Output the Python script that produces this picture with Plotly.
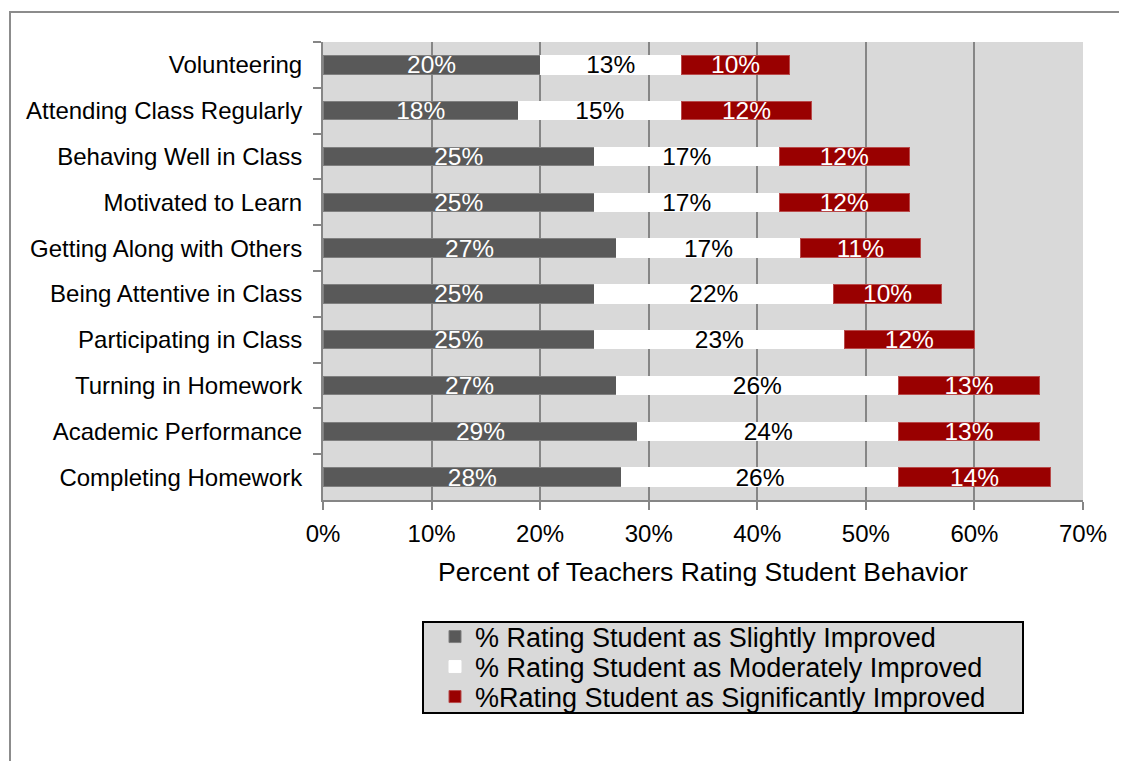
import plotly.graph_objects as go

categories = [
    "Volunteering",
    "Attending Class Regularly",
    "Behaving Well in Class",
    "Motivated to Learn",
    "Getting Along with Others",
    "Being Attentive in Class",
    "Participating in Class",
    "Turning in Homework",
    "Academic Performance",
    "Completing Homework",
]
slightly = [20, 18, 25, 25, 27, 25, 25, 27, 29, 27.5]
moderately = [13, 15, 17, 17, 17, 22, 23, 26, 24, 25.5]
significantly = [10, 12, 12, 12, 11, 10, 12, 13, 13, 14]

series_names = [
    "% Rating Student as Slightly Improved",
    "% Rating Student as Moderately Improved",
    "%Rating Student as Significantly Improved",
]
x_ticks = [0, 10, 20, 30, 40, 50, 60, 70]
x_tick_labels = [f"{v}%" for v in x_ticks]

FONT = "Liberation Sans, Arial, sans-serif"
FS_TICK = 24
FS_BAR = 24.5
FS_TITLE = 26.5
FS_LEG = 27

colors = ["#595959", "#ffffff", "#990000"]
text_colors = ["#ffffff", "#000000", "#ffffff"]
edge_colors = ["#7f7f7f", "#ffffff", "#b84a4a"]
legend_ids = ["legend", "legend2", "legend3"]

# page has an 8px body margin; lay out in reference pixel coords
OFF = 8
W, H = 1127 - OFF, 761 - OFF
PL, PR, PT, PB = 323, 1083, 42, 500  # plot area in reference pixels
pw, ph = PR - PL, PB - PT


def px2x(p):
    return (p - PL) / pw


def px2y(p):
    return (PB - p) / ph


fig = go.Figure()
for name, vals, c, tc, ec, lg in zip(series_names, [slightly, moderately, significantly],
                                     colors, text_colors, edge_colors, legend_ids):
    fig.add_trace(go.Bar(
        y=categories, x=vals, name=name, orientation="h", legend=lg,
        marker=dict(color=c, line=dict(color=ec, width=1)),
        texttemplate="%{x:.0f}%", textposition="inside", insidetextanchor="middle",
        constraintext="none",
        textfont=dict(family=FONT, size=FS_BAR, color=tc),
    ))

leg_common = dict(
    xanchor="left", yanchor="middle", bgcolor="rgba(0,0,0,0)", borderwidth=0,
    font=dict(family=FONT, size=FS_LEG, color="#000000"), itemwidth=30,
)

fig.update_layout(
    width=W, height=H,
    margin=dict(l=PL - OFF, r=W - (PR - OFF), t=PT - OFF, b=H - (PB - OFF), pad=0),
    barmode="stack", bargap=0.6,
    paper_bgcolor="#ffffff", plot_bgcolor="#d9d9d9",
    font=dict(family=FONT, size=FS_TICK, color="#000000"),
    xaxis=dict(
        range=[0, 70], tickmode="array", tickvals=x_ticks, ticktext=x_tick_labels,
        showgrid=True, gridcolor="#868686", gridwidth=2,
        showline=True, linecolor="#868686", linewidth=2,
        ticks="outside", ticklen=8, tickcolor="#868686", tickwidth=2,
        ticklabelstandoff=3,
        zeroline=False, fixedrange=True,
        title=dict(text="Percent of Teachers Rating Student Behavior",
                   font=dict(family=FONT, size=FS_TITLE), standoff=17),
        tickfont=dict(family=FONT, size=FS_TICK),
    ),
    yaxis=dict(
        autorange="reversed", tickson="boundaries",
        showline=True, linecolor="#868686", linewidth=2,
        ticks="outside", ticklen=8, tickcolor="#868686", tickwidth=2,
        ticklabelstandoff=14,
        showgrid=False, tickfont=dict(family=FONT, size=FS_TICK),
    ),
    showlegend=True,
    legend=dict(x=px2x(435), y=px2y(637), **leg_common),
    legend2=dict(x=px2x(435), y=px2y(667), **leg_common),
    legend3=dict(x=px2x(435), y=px2y(697), **leg_common),
    shapes=[
        dict(type="rect", xref="paper", yref="paper",
             x0=px2x(10), x1=px2x(1140), y0=px2y(780), y1=px2y(12),
             line=dict(color="#8c8c8c", width=2), fillcolor="rgba(0,0,0,0)",
             layer="below"),
        dict(type="rect", xref="paper", yref="paper",
             x0=px2x(423), x1=px2x(1023), y0=px2y(713), y1=px2y(622),
             line=dict(color="#000000", width=2), fillcolor="#d9d9d9",
             layer="below"),
    ],
)

fig.write_html("out.html")
